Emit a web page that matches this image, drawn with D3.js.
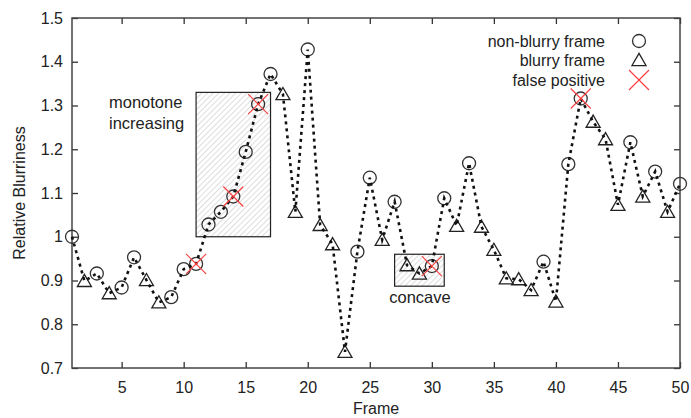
<!DOCTYPE html>
<html>
<head>
<meta charset="utf-8">
<script src="https://cdn.jsdelivr.net/npm/d3@7"></script>
<style>
  body { margin: 0; background: #fff; }
  text { font-family: Arial, "Liberation Sans", sans-serif; fill: #222; }
</style>
</head>
<body>
<div id="chart"></div>
<script>
// data
const frames = d3.range(1, 51);
const blurriness = [
  1.000, 0.899, 0.916, 0.871, 0.884, 0.953, 0.901, 0.850, 0.862, 0.926,
  0.938, 1.028, 1.057, 1.092, 1.194, 1.303, 1.372, 1.326, 1.057, 1.428,
  1.027, 0.983, 0.737, 0.966, 1.135, 0.993, 1.080, 0.935, 0.916, 0.933,
  1.088, 1.025, 1.168, 1.023, 0.970, 0.905, 0.903, 0.878, 0.943, 0.852,
  1.166, 1.316, 1.263, 1.223, 1.073, 1.216, 1.092, 1.149, 1.057, 1.121
];
// c = non-blurry frame, t = blurry frame
const frameType = [
  "c", "t", "c", "t", "c", "c", "t", "t", "c", "c",
  "c", "c", "c", "c", "c", "c", "c", "t", "t", "c",
  "t", "t", "t", "c", "c", "t", "c", "t", "t", "c",
  "c", "t", "c", "t", "t", "t", "t", "t", "c", "t",
  "c", "c", "t", "t", "t", "c", "t", "c", "t", "c"
];
const falsePositives = [11, 14, 16, 30, 42];
const xTicks = [5, 10, 15, 20, 25, 30, 35, 40, 45, 50];
const yTicks = [0.7, 0.8, 0.9, 1.0, 1.1, 1.2, 1.3, 1.4, 1.5];
const boxes = [
  {x0: 11, x1: 17, y0: 1.0, y1: 1.33},
  {x0: 27, x1: 31, y0: 0.887, y1: 0.96}
];
const legendItems = ["non-blurry frame", "blurry frame", "false positive"];

const width = 691, height = 418;
const margin = {t: 18, b: 50, l: 72, r: 11};

const svg = d3.select("#chart").append("svg")
  .attr("width", width)
  .attr("height", height);

const x = d3.scaleLinear().domain([1, 50]).range([margin.l, width - margin.r]);
const y = d3.scaleLinear().domain([0.7, 1.5]).range([height - margin.b, margin.t]);

// hatch pattern
const pat = svg.append("defs").append("pattern")
  .attr("id", "hatch")
  .attr("patternUnits", "userSpaceOnUse")
  .attr("width", 4).attr("height", 4)
  .attr("patternTransform", "rotate(45)");
pat.append("line")
  .attr("x1", 0).attr("y1", 0).attr("x2", 0).attr("y2", 4)
  .attr("stroke", "#bbb").attr("stroke-width", 1);

boxes.forEach(b => {
  svg.append("rect")
    .attr("x", x(b.x0))
    .attr("y", y(b.y1))
    .attr("width", x(b.x1) - x(b.x0))
    .attr("height", y(b.y0) - y(b.y1))
    .attr("fill", "url(#hatch)")
    .attr("stroke", "#222")
    .attr("stroke-width", 1.2);
});

// axes (inward ticks on all four sides)
const fmt = d => d === 1 ? "1" : d3.format(".1f")(d);
svg.append("g")
  .attr("transform", `translate(0,${height - margin.b})`)
  .call(d3.axisBottom(x).tickValues(xTicks).tickSize(-6).tickPadding(14))
  .call(g => g.selectAll("text").style("font-size", "16px"));
svg.append("g")
  .attr("transform", `translate(0,${margin.t})`)
  .call(d3.axisTop(x).tickValues(xTicks).tickSize(-6).tickFormat(""));
svg.append("g")
  .attr("transform", `translate(${margin.l},0)`)
  .call(d3.axisLeft(y).tickValues(yTicks).tickSize(-6).tickPadding(9).tickFormat(fmt))
  .call(g => g.selectAll("text").style("font-size", "16px"));
svg.append("g")
  .attr("transform", `translate(${width - margin.r},0)`)
  .call(d3.axisRight(y).tickValues(yTicks).tickSize(-6).tickFormat(""));
svg.selectAll(".domain").remove();
svg.selectAll(".tick line").attr("stroke", "#333").attr("stroke-width", 1.3);
svg.selectAll(".tick text").attr("fill", "#222");

svg.append("rect")
  .attr("x", margin.l).attr("y", margin.t)
  .attr("width", width - margin.r - margin.l)
  .attr("height", height - margin.b - margin.t)
  .attr("fill", "none")
  .attr("stroke", "#444")
  .attr("stroke-width", 1.5);

// markers
const tri = d3.symbol().type(d3.symbolTriangle).size(85);
const data = frames.map((f, i) => ({f: f, v: blurriness[i], t: frameType[i]}));

svg.append("g").selectAll("circle")
  .data(data.filter(d => d.t === "c"))
  .join("circle")
  .attr("cx", d => x(d.f))
  .attr("cy", d => y(d.v))
  .attr("r", 6.5)
  .attr("fill", "none")
  .attr("stroke", "#333")
  .attr("stroke-width", 1.3);

svg.append("g").selectAll("path")
  .data(data.filter(d => d.t === "t"))
  .join("path")
  .attr("d", tri)
  .attr("transform", d => `translate(${x(d.f)},${y(d.v) + 1.5})`)
  .attr("fill", "none")
  .attr("stroke", "#222")
  .attr("stroke-width", 1.3);

// the dotted line
const line = d3.line().x(d => x(d.f)).y(d => y(d.v));
svg.append("path")
  .datum(data)
  .attr("d", line)
  .attr("fill", "none")
  .attr("stroke", "#111")
  .attr("stroke-width", 2.6)
  .attr("stroke-dasharray", "3,4");

// false positive crosses
const cross = s => `M${-s},${-s}L${s},${s}M${-s},${s}L${s},${-s}`;
svg.append("g").selectAll("path")
  .data(data.filter(d => falsePositives.includes(d.f)))
  .join("path")
  .attr("d", cross(10))
  .attr("transform", d => `translate(${x(d.f)},${y(d.v)})`)
  .attr("fill", "none")
  .attr("stroke", "#ff3b3b")
  .attr("stroke-width", 1.1);

// annotations
svg.append("text").attr("x", 109).attr("y", 108).style("font-size", "16.5px").text("monotone");
svg.append("text").attr("x", 109).attr("y", 129).style("font-size", "16.5px").text("increasing");
svg.append("text").attr("x", 420).attr("y", 303).attr("text-anchor", "middle")
  .style("font-size", "16.5px").text("concave");

// legend
const legY = [41, 60, 80];
legendItems.forEach((name, i) => {
  svg.append("text")
    .attr("x", 605).attr("y", legY[i])
    .attr("dy", "0.35em")
    .attr("text-anchor", "end")
    .style("font-size", "16px")
    .text(name);
});
svg.append("circle").attr("cx", 639).attr("cy", legY[0]).attr("r", 6.5)
  .attr("fill", "none").attr("stroke", "#333").attr("stroke-width", 1.3);
svg.append("path").attr("d", tri).attr("transform", `translate(639,${legY[1] + 1.5})`)
  .attr("fill", "none").attr("stroke", "#222").attr("stroke-width", 1.3);
svg.append("path").attr("d", cross(10)).attr("transform", `translate(639,${legY[2]})`)
  .attr("fill", "none").attr("stroke", "#ff3b3b").attr("stroke-width", 1.1);

// axis titles
svg.append("text")
  .attr("x", x(25.5)).attr("y", 414)
  .attr("text-anchor", "middle")
  .style("font-size", "16px")
  .text("Frame");
svg.append("text")
  .attr("transform", `translate(25,${(margin.t + height - margin.b) / 2}) rotate(-90)`)
  .attr("text-anchor", "middle")
  .style("font-size", "16px")
  .text("Relative Blurriness");
</script>
</body>
</html>
